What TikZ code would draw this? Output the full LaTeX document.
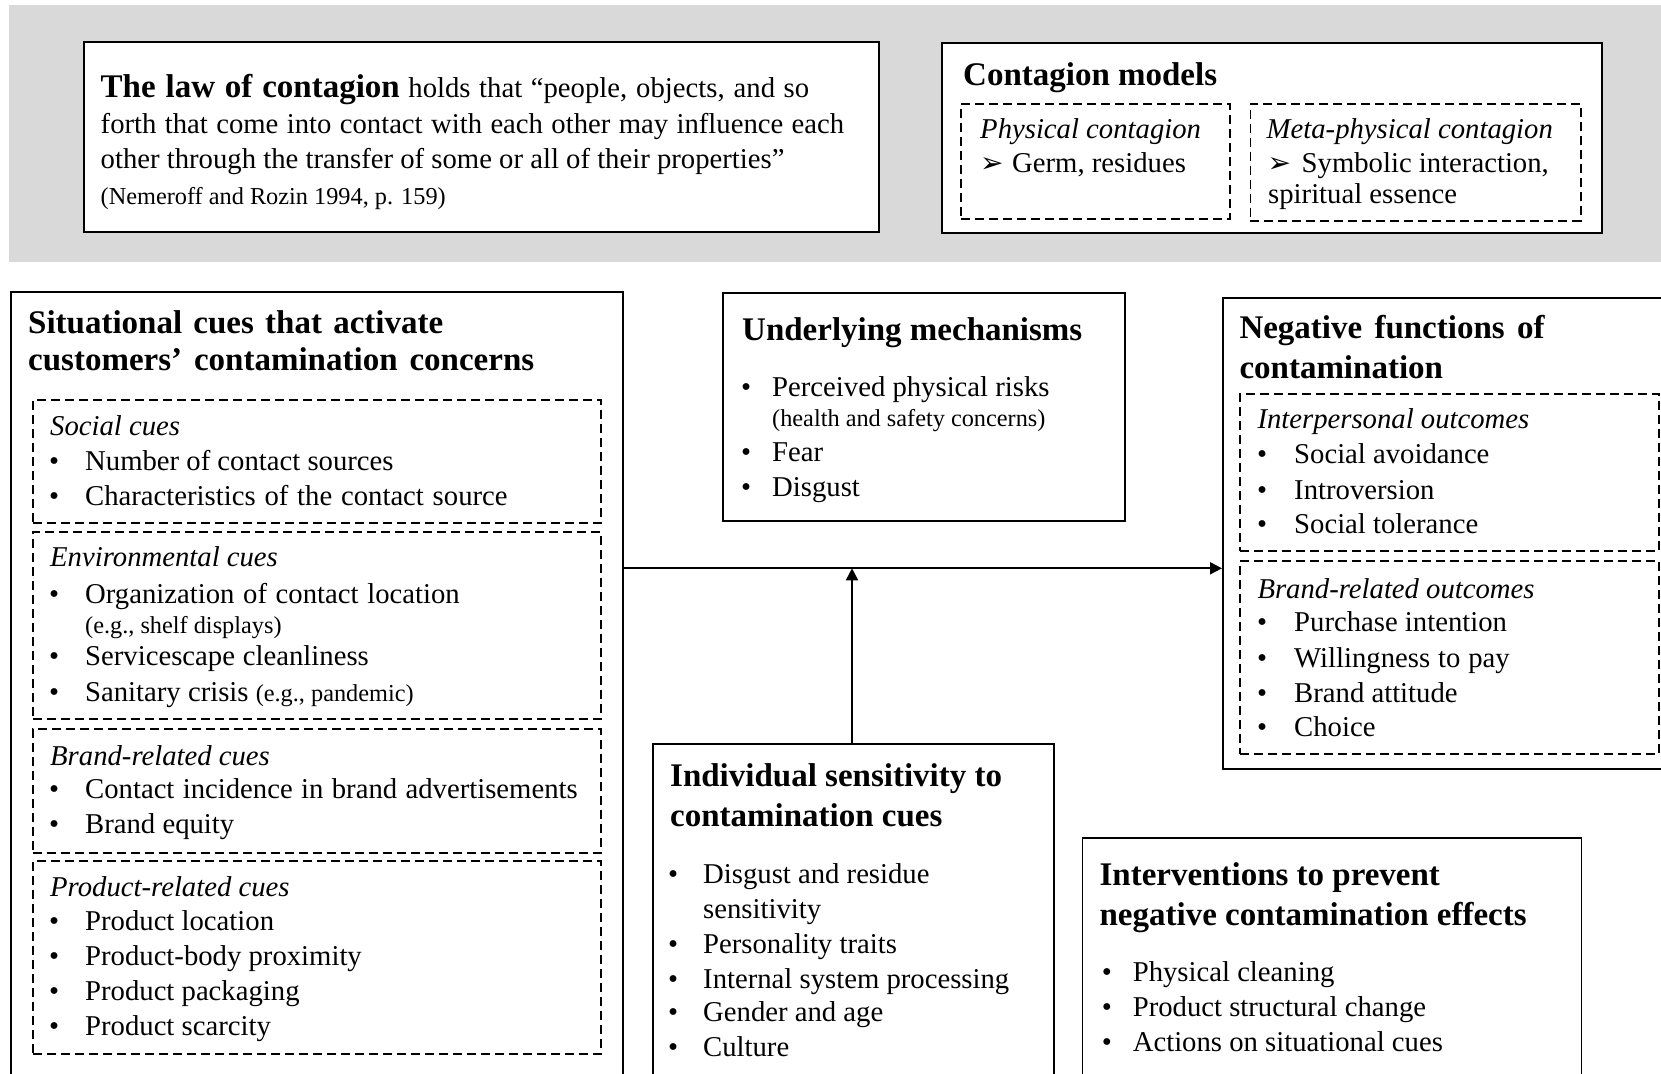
\documentclass[tikz,border=0pt]{standalone}
\usepackage{fontspec}
\setmainfont{Liberation Serif}
\newfontfamily\djv{DejaVu Sans}
\usetikzlibrary{arrows.meta}
\definecolor{bandgray}{RGB}{217,217,217}
\newcommand\bodyfs{\fontsize{28.7}{34}\selectfont}
\newcommand\ttlfs{\fontsize{33}{40}\selectfont\bfseries}
\newcommand\smfs{\fontsize{24.3}{29}\selectfont}
\newcommand\bu[1]{\llap{\makebox[#1pt][l]{•}}}
\newcommand\arw[1]{\llap{\makebox[#1pt][l]{\djv\fontsize{28}{30}\selectfont ➢}}}
\newcommand\jst[2]{\makebox[#1pt][s]{#2}}
\begin{document}
\begin{tikzpicture}[x=1pt,y=-1pt,
  box/.style={draw=black, line width=1.9pt, fill=white, inner sep=0pt, anchor=north west},
  dbox/.style={draw=black, line width=1.6pt, dash pattern=on 9pt off 5pt, inner sep=0pt, anchor=north west},
  txt/.style={anchor=base west, inner sep=0pt, font=\bodyfs},
  ttl/.style={anchor=base west, inner sep=0pt, font=\ttlfs},
  itx/.style={anchor=base west, inner sep=0pt, font=\bodyfs\itshape},
  smx/.style={anchor=base west, inner sep=0pt, font=\smfs},
  arr/.style={line width=1.9pt, -{Triangle[length=12pt,width=12pt]}}]
\useasboundingbox (0,0) rectangle (1661,1073);
\begin{scope}
\clip (0,0) rectangle (1661,1073);
\fill[bandgray] (9,5) rectangle (1661,262);

% ---- top band ----
\node[box, minimum width=795pt, minimum height=190pt] (law) at (83,41) {};
\node[txt] (l1) at (100.5,97.3) {\jst{708.5}{{\ttlfs The law of contagion} holds that “people, objects, and so}};
\node[txt] (l2) at (100.5,133.3) {\jst{743.5}{forth that come into contact with each other may influence each}};
\node[txt] (l3) at (100.5,168.3) {other through the transfer of some or all of their properties”};
\node[smx] (l4) at (100.5,204) {(Nemeroff and Rozin 1994, p. 159)};

\node[box, minimum width=660pt, minimum height=190pt] (models) at (941,42) {};
\node[ttl] (c0) at (963,85) {Contagion models};
\node[dbox, minimum width=269pt, minimum height=115pt] (phys) at (960,103) {};
\node[dbox, minimum width=330.5pt, minimum height=117pt] (meta) at (1249.5,103) {};
\node[itx] (c1) at (980,138) {Physical contagion};
\node[txt] (c2) at (1012,172) {\arw{32}Germ, residues};
\node[itx] (c3) at (1266.5,138) {Meta-physical contagion};
\node[txt] (c4) at (1301.5,172.5) {\arw{34}Symbolic interaction,};
\node[txt] (c5) at (1268,203.3) {spiritual essence};

% ---- situational cues ----
\node[box, minimum width=612pt, minimum height=809pt] (sit) at (10,291) {};
\node[ttl] (s0) at (28,333.3) {\jst{415}{Situational cues that activate}};
\node[ttl] (s1) at (28,370) {\jst{506}{customers’ contamination concerns}};
\node[dbox, minimum width=568pt, minimum height=123pt] (social) at (32,399) {};
\node[itx] (s2) at (50,435) {Social cues};
\node[txt] (s3) at (85,470) {\bu{36}Number of contact sources};
\node[txt] (s4) at (85,505) {\bu{36}\jst{422.4}{Characteristics of the contact source}};
\node[dbox, minimum width=568pt, minimum height=187pt] (env) at (32,531) {};
\node[itx] (s5) at (50,566.7) {Environmental cues};
\node[txt] (s6) at (85,603.3) {\bu{36}\jst{374.5}{Organization of contact location}};
\node[smx] (s7) at (85,633.3) {(e.g., shelf displays)};
\node[txt] (s8) at (85,665) {\bu{36}\jst{283.6}{Servicescape cleanliness}};
\node[txt] (s9) at (85,701.7) {\bu{36}Sanitary crisis {\smfs (e.g., pandemic)}};
\node[dbox, minimum width=568pt, minimum height=124pt] (brandc) at (32,728) {};
\node[itx] (s10) at (50,765) {Brand-related cues};
\node[txt] (s11) at (85,798.3) {\bu{36}\jst{492.5}{Contact incidence in brand advertisements}};
\node[txt] (s12) at (85,833.3) {\bu{36}Brand equity};
\node[dbox, minimum width=568pt, minimum height=193pt] (prodc) at (32,860) {};
\node[itx] (s13) at (50,896) {Product-related cues};
\node[txt] (s14) at (85,930) {\bu{36}Product location};
\node[txt] (s15) at (85,965) {\bu{36}Product-body proximity};
\node[txt] (s16) at (85,1000) {\bu{36}Product packaging};
\node[txt] (s17) at (85,1035) {\bu{36}Product scarcity};

% ---- underlying mechanisms ----
\node[box, minimum width=402pt, minimum height=228pt] (und) at (722,292) {};
\node[ttl] (u0) at (742,340) {Underlying mechanisms};
\node[txt] (u1) at (772,396.7) {\bu{31}Perceived physical risks};
\node[smx] (u2) at (772,426.7) {(health and safety concerns)};
\node[txt] (u3) at (772,461.7) {\bu{31}Fear};
\node[txt] (u4) at (772,496) {\bu{31}Disgust};

% ---- negative functions ----
\node[box, minimum width=458pt, minimum height=471pt] (neg) at (1222,297) {};
\node[ttl] (n0) at (1239.3,338.3) {\jst{305}{Negative functions of}};
\node[ttl] (n1) at (1239.3,378.3) {contamination};
\node[dbox, minimum width=419pt, minimum height=157pt] (inter) at (1239,393) {};
\node[itx] (n2) at (1257.3,428.3) {Interpersonal outcomes};
\node[txt] (n3) at (1294,463.3) {\bu{37}Social avoidance};
\node[txt] (n4) at (1294,499.3) {\bu{37}Introversion};
\node[txt] (n5) at (1294,533.3) {\bu{37}Social tolerance};
\node[dbox, minimum width=419pt, minimum height=193pt] (brando) at (1239,560) {};
\node[itx] (n6) at (1257.3,598.3) {Brand-related outcomes};
\node[txt] (n7) at (1294,631.7) {\bu{37}Purchase intention};
\node[txt] (n8) at (1294,667.3) {\bu{37}\jst{215.5}{Willingness to pay}};
\node[txt] (n9) at (1294,702.7) {\bu{37}Brand attitude};
\node[txt] (n10) at (1294,736.7) {\bu{37}Choice};

% ---- individual sensitivity ----
\node[box, minimum width=401pt, minimum height=357pt] (ind) at (652,743) {};
\node[ttl] (i0) at (670,786.7) {Individual sensitivity to};
\node[ttl] (i1) at (670,826.7) {contamination cues};
\node[txt] (i2) at (703,883.3) {\bu{35}Disgust and residue};
\node[txt] (i3) at (703,918.3) {sensitivity};
\node[txt] (i4) at (703,953.3) {\bu{35}Personality traits};
\node[txt] (i5) at (703,988.3) {\bu{35}Internal system processing};
\node[txt] (i6) at (703,1021.7) {\bu{35}Gender and age};
\node[txt] (i7) at (703,1056.7) {\bu{35}Culture};

% ---- interventions ----
\node[box, minimum width=499pt, minimum height=263pt] (intv) at (1081.5,837) {};
\node[ttl] (v0) at (1099.4,885) {Interventions to prevent};
\node[ttl] (v1) at (1099.4,925) {negative contamination effects};
\node[txt] (v2) at (1132.6,981.7) {\bu{31}Physical cleaning};
\node[txt] (v3) at (1132.6,1016.7) {\bu{31}Product structural change};
\node[txt] (v4) at (1132.6,1051.7) {\bu{31}Actions on situational cues};

% ---- connectors ----
\coordinate (hl) at (852,568.3);
\draw[arr] (sit.east |- hl) -- (neg.west |- hl);
\draw[arr] (ind.north -| hl) -- (hl);
\end{scope}
\end{tikzpicture}
\end{document}
